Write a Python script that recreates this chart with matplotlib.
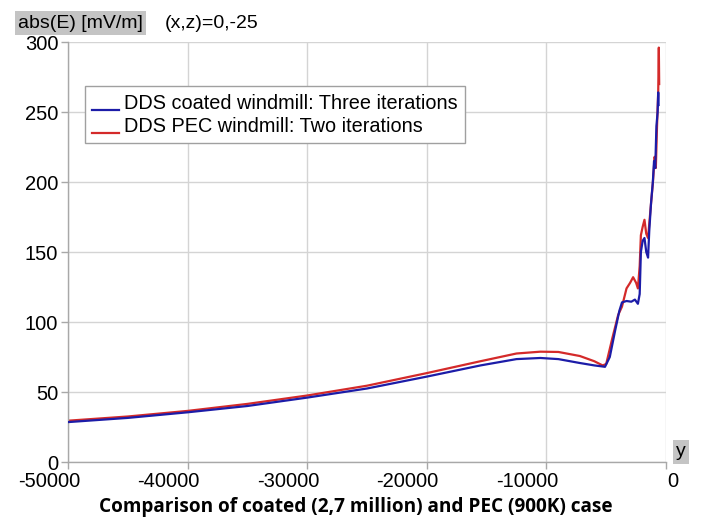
import matplotlib
matplotlib.use("Agg")
import matplotlib.pyplot as plt
from matplotlib.legend_handler import HandlerLine2D
from matplotlib.lines import Line2D
from matplotlib.transforms import ScaledTranslation

# Field magnitude along y at (x,z) = (0,-25)
y_blue = [-50000, -45000, -40000, -35000, -30000, -25000, -20000, -15500, -12500,
          -10500, -9000, -7200, -6000, -5100, -4700, -4250, -3900, -3680, -3300,
          -2900, -2600, -2350, -2200, -2100, -1950, -1800, -1650, -1500, -1400,
          -1250, -1100, -1000, -900, -800, -700, -650, -620]
e_blue = [28.5, 31.5, 35.5, 40.0, 46.0, 52.5, 61.0, 69.0, 73.5,
          74.3, 73.5, 70.7, 69.0, 68.0, 75.0, 94.0, 108.0, 114.0, 115.0,
          114.5, 116.0, 113.0, 120.0, 150.0, 158.0, 160.0, 150.0, 146.0, 165.0,
          185.0, 200.0, 215.0, 210.0, 240.0, 250.0, 264.0, 255.0]

y_red = [-50000, -45000, -40000, -35000, -30000, -25000, -20000, -15500, -12500,
         -10500, -9000, -7200, -6000, -5300, -5000, -4500, -4000, -3680, -3300,
         -3000, -2750, -2500, -2350, -2200, -2100, -1950, -1800, -1650, -1500,
         -1300, -1100, -950, -850, -750, -650, -600, -570]
e_red = [29.5, 32.5, 36.5, 41.5, 47.5, 54.5, 63.5, 72.0, 77.5,
         78.8, 78.6, 75.7, 72.0, 69.0, 70.0, 88.0, 105.0, 111.0, 124.0,
         128.0, 132.0, 128.0, 124.0, 140.0, 162.0, 168.0, 173.0, 163.0, 160.0,
         180.0, 199.0, 218.0, 210.0, 240.0, 265.0, 296.0, 270.0]

label_blue = "DDS coated windmill: Three iterations"
label_red = "DDS PEC windmill: Two iterations"
x_ticks = [-50000, -40000, -30000, -20000, -10000, 0]
y_ticks = [0, 50, 100, 150, 200, 250, 300]

plt.rcParams['font.family'] = ['Liberation Sans', 'DejaVu Sans']
plt.rcParams['axes.unicode_minus'] = False

W, H = 703, 523
fig = plt.figure(figsize=(W / 100, H / 100), dpi=100)
ax = fig.add_axes([68 / W, 1 - 462 / H, (666 - 68) / W, (462 - 42) / H])

ax.plot(y_blue, e_blue, color="#1c1ca8", lw=1.6, label=label_blue, zorder=3)
ax.plot(y_red, e_red, color="#d42a2a", lw=1.6, label=label_red, zorder=2)

ax.set_xlim(-50000, 0)
ax.set_ylim(0, 300)
ax.set_xticks(x_ticks)
ax.set_yticks(y_ticks)
ax.grid(True, color="#d4d4d4", lw=1.0)
ax.set_axisbelow(True)
for s in ("top", "right"):
    ax.spines[s].set_visible(False)
for s in ("left", "bottom"):
    ax.spines[s].set_color("#a8a8a8")
    ax.spines[s].set_linewidth(1.0)
ax.tick_params(colors="#a8a8a8", labelcolor="black", labelsize=14.5, length=5,
               width=1.0, pad=2)

# x tick labels sit right-aligned just past their tick
shift = ScaledTranslation(12 / 100, 0, fig.dpi_scale_trans)
for lab in ax.get_xticklabels():
    lab.set_horizontalalignment("right")
    lab.set_transform(lab.get_transform() + shift)


class BaselineLine(HandlerLine2D):
    """Legend key drawn as a short stroke on the text baseline."""
    def create_artists(self, legend, orig_handle, xdescent, ydescent, width,
                       height, fontsize, trans):
        artists = super().create_artists(legend, orig_handle, xdescent, ydescent,
                                         width, height, fontsize, trans)
        for a in artists:
            if isinstance(a, Line2D):
                yd = a.get_ydata()
                a.set_ydata([0.0 - 0.1 * height] * len(yd))
        return artists


h, l = ax.get_legend_handles_labels()
leg = ax.legend(h, l, loc="upper left", bbox_to_anchor=(84.5 / W, 1 - 86 / H),
                bbox_transform=fig.transFigure, borderaxespad=0,
                fontsize=14.3, frameon=True, fancybox=False, edgecolor="#a0a0a0",
                handlelength=1.35, handletextpad=0.25, borderpad=0.38,
                labelspacing=0.2, framealpha=1,
                handler_map={Line2D: BaselineLine()})
leg.get_frame().set_linewidth(1.0)

# Axis captions
fig.text(18 / W, 1 - 27.5 / H, "abs(E) [mV/m]", fontsize=14, ha="left", va="baseline",
         bbox=dict(boxstyle="square,pad=0.18", fc="#c4c4c4", ec="none"))
fig.text(165 / W, 1 - 27.5 / H, "(x,z)=0,-25", fontsize=14, ha="left", va="baseline")
fig.text(681 / W, 1 - 456 / H, "y", fontsize=14, ha="center", va="baseline",
         bbox=dict(boxstyle="square,pad=0.18", fc="#c4c4c4", ec="none"))

fig.text(356 / W, 1 - 512 / H, "Comparison of coated (2,7 million) and PEC (900K) case",
         fontsize=13.7, fontweight="bold", family=["Open Sans", "DejaVu Sans"],
         ha="center", va="baseline")

fig.savefig("out.png", dpi=100)
